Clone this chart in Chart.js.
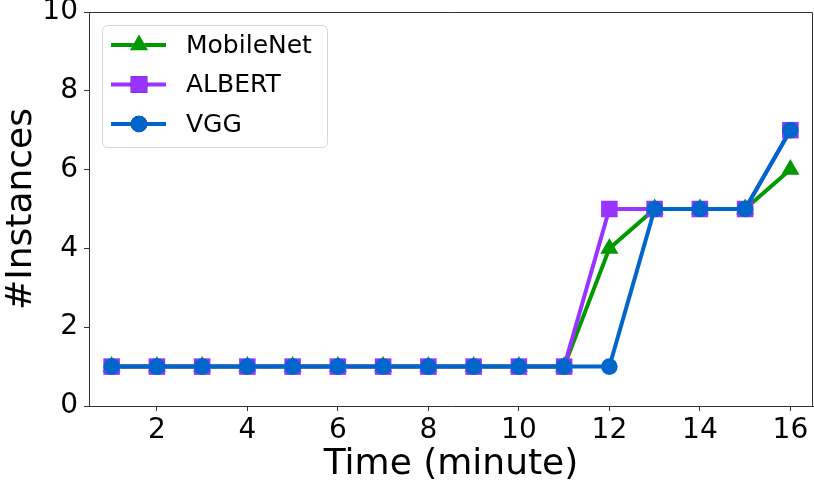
<!DOCTYPE html>
<html>
<head>
<meta charset="utf-8">
<script src="https://cdn.jsdelivr.net/npm/chart.js@4/dist/chart.umd.min.js"></script>
<style>
  html, body { margin: 0; padding: 0; background: #fff; }
  #wrap { width: 814px; height: 486px; }
</style>
</head>
<body>
<div id="wrap"><canvas id="chart_instances" width="814" height="486"></canvas></div>
<script>
const times = [1, 2, 3, 4, 5, 6, 7, 8, 9, 10, 11, 12, 13, 14, 15, 16];
const mobileNet = [1, 1, 1, 1, 1, 1, 1, 1, 1, 1, 1, 4, 5, 5, 5, 6];
const albert = [1, 1, 1, 1, 1, 1, 1, 1, 1, 1, 1, 5, 5, 5, 5, 7];
const vgg = [1, 1, 1, 1, 1, 1, 1, 1, 1, 1, 1, 1, 5, 5, 5, 7];
const xTicks = [2, 4, 6, 8, 10, 12, 14, 16];
const yTicks = [0, 2, 4, 6, 8, 10];

const colors = {
    green: '#009900',
    purple: '#9933ff',
    blue: '#0066cc'
};

const FONT = "'DejaVu Sans', sans-serif";

function points(vals) {
    return times.map((t, i) => ({x: t, y: vals[i]}));
}

// matplotlib-like legend: line with marker in the middle
const legendPlugin = {
    id: 'mplLegend',
    afterDatasetsDraw(chart) {
        const ctx = chart.ctx;
        const x0 = 102, y0 = 25, w = 225, h = 122, r = 5;
        ctx.save();
        ctx.fillStyle = 'rgba(255,255,255,0.8)';
        ctx.strokeStyle = '#d6d6d6';
        ctx.lineWidth = 1;
        ctx.beginPath();
        ctx.roundRect(x0 + 0.5, y0 + 0.5, w, h, r);
        ctx.fill();
        ctx.stroke();
        const order = [0, 1, 2];
        order.forEach((di, k) => {
            const ds = chart.data.datasets[di];
            const cy = 45 + k * 39.5;
            ctx.strokeStyle = ds.borderColor;
            ctx.lineWidth = ds.borderWidth;
            ctx.beginPath();
            ctx.moveTo(111, cy);
            ctx.lineTo(166, cy);
            ctx.stroke();
            Chart.helpers.drawPoint(ctx, {
                pointStyle: ds.pointStyle,
                radius: ds.pointRadius,
                borderWidth: 0,
                rotation: 0
            }, 139, cy);
            ctx.fillStyle = ds.backgroundColor;
            ctx.fill();
            ctx.fillStyle = '#000';
            ctx.font = '25px ' + FONT;
            ctx.textAlign = 'left';
            ctx.textBaseline = 'middle';
            ctx.fillText(ds.label, 186, cy + 1);
        });
        ctx.restore();
    }
};

// top and right spines
const framePlugin = {
    id: 'frame',
    afterDraw(chart) {
        const a = chart.chartArea;
        const ctx = chart.ctx;
        ctx.save();
        ctx.strokeStyle = '#333';
        ctx.lineWidth = 1;
        ctx.beginPath();
        ctx.moveTo(a.left, a.top + 0.5);
        ctx.lineTo(a.right - 0.5, a.top + 0.5);
        ctx.lineTo(a.right - 0.5, a.bottom);
        ctx.stroke();
        ctx.restore();
    }
};

function render_chart() {
    const ctx = document.getElementById('chart_instances').getContext('2d');
    new Chart(ctx, {
        type: 'scatter',
        data: {
            datasets: [
                {
                    label: 'MobileNet',
                    data: points(mobileNet),
                    borderColor: colors.green,
                    backgroundColor: colors.green,
                    pointStyle: 'triangle',
                    pointRadius: 10.5,
                    pointBorderWidth: 0,
                    borderWidth: 4,
                    showLine: true,
                    order: 3
                },
                {
                    label: 'ALBERT',
                    data: points(albert),
                    borderColor: colors.purple,
                    backgroundColor: colors.purple,
                    pointStyle: 'rect',
                    pointRadius: 11.7,
                    pointBorderWidth: 0,
                    borderWidth: 4,
                    showLine: true,
                    order: 2
                },
                {
                    label: 'VGG',
                    data: points(vgg),
                    borderColor: colors.blue,
                    backgroundColor: colors.blue,
                    pointStyle: 'circle',
                    pointRadius: 8.3,
                    pointBorderWidth: 0,
                    borderWidth: 4,
                    showLine: true,
                    order: 1
                }
            ]
        },
        options: {
            responsive: false,
            animation: false,
            devicePixelRatio: 1,
            layout: {autoPadding: false, padding: {top: 12, right: 1, left: 0, bottom: 0}},
            plugins: {
                legend: {display: false},
                tooltip: {enabled: false}
            },
            scales: {
                x: {
                    type: 'linear',
                    min: 0.5,
                    max: 16.5,
                    afterBuildTicks: s => { s.ticks = xTicks.map(v => ({value: v})); },
                    afterFit: s => { s.height = 80; s.paddingLeft = 0; s.paddingRight = 0; },
                    ticks: {
                        color: '#000',
                        font: {family: FONT, size: 28},
                        padding: 3,
                        maxRotation: 0,
                        autoSkip: false
                    },
                    grid: {drawOnChartArea: false, drawTicks: true, tickLength: 5, color: '#333'},
                    border: {color: '#333', width: 1},
                    title: {
                        display: true,
                        text: 'Time (minute)',
                        color: '#000',
                        font: {family: FONT, size: 36},
                        padding: 0
                    }
                },
                y: {
                    min: 0,
                    max: 10,
                    afterBuildTicks: s => { s.ticks = yTicks.map(v => ({value: v})); },
                    afterFit: s => { s.width = 89; s.paddingTop = 0; s.paddingBottom = 0; },
                    ticks: {
                        color: '#000',
                        font: {family: FONT, size: 28},
                        padding: 6,
                        autoSkip: false
                    },
                    grid: {drawOnChartArea: false, drawTicks: true, tickLength: 5, color: '#333'},
                    border: {color: '#333', width: 1},
                    title: {
                        display: true,
                        text: '#Instances',
                        color: '#000',
                        font: {family: FONT, size: 36},
                        padding: 0
                    }
                }
            }
        },
        plugins: [legendPlugin, framePlugin]
    });
}

render_chart();
</script>
</body>
</html>
